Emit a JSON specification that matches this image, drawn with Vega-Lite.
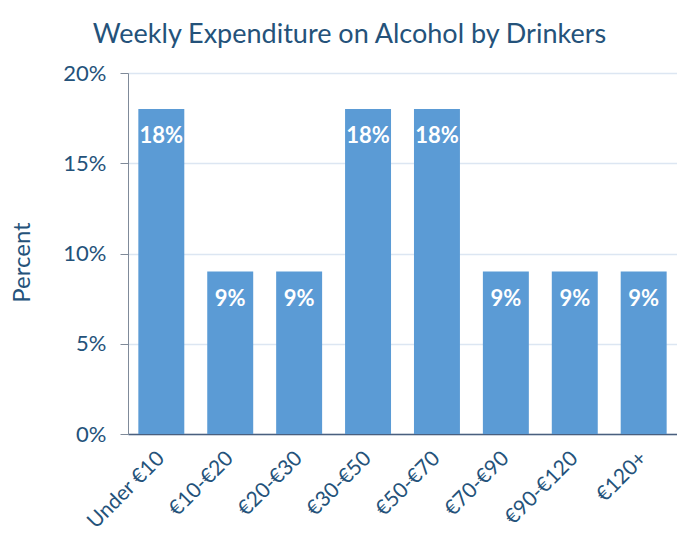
{
  "$schema": "https://vega.github.io/schema/vega-lite/v6.json",
  "width": 549,
  "height": 361,
  "autosize": "none",
  "padding": {"left": 128, "top": 73, "right": 0, "bottom": 101},
  "background": "white",
  "title": {
    "text": "Weekly Expenditure on Alcohol by Drinkers",
    "font": "Lato",
    "fontSize": 27,
    "fontWeight": "normal",
    "color": "#24527A",
    "anchor": "middle",
    "baseline": "alphabetic",
    "offset": -8,
    "dx": -53
  },
  "data": {
    "values": [
      {"range": "Under €10", "pct": 0.18},
      {"range": "€10-€20", "pct": 0.09},
      {"range": "€20-€30", "pct": 0.09},
      {"range": "€30-€50", "pct": 0.18},
      {"range": "€50-€70", "pct": 0.18},
      {"range": "€70-€90", "pct": 0.09},
      {"range": "€90-€120", "pct": 0.09},
      {"range": "€120+", "pct": 0.09}
    ]
  },
  "encoding": {
    "x": {
      "field": "range",
      "type": "nominal",
      "sort": null,
      "scale": {"paddingInner": 0.333, "paddingOuter": 0.15},
      "axis": {
        "title": null,
        "labelAngle": -45,
        "labelAlign": "right",
        "labelBaseline": "middle",
        "labelFont": "Lato",
        "labelFontSize": 21,
        "labelColor": "#24527A",
        "labelPadding": 21,
        "ticks": false,
        "domainColor": "#4A5F7E",
        "domainWidth": 1.5,
        "grid": false
      }
    },
    "y": {
      "field": "pct",
      "type": "quantitative",
      "scale": {"domain": [0, 0.2]},
      "axis": {
        "values": [0, 0.05, 0.1, 0.15, 0.2],
        "format": ".0%",
        "title": "Percent",
        "titleFont": "Lato",
        "titleFontSize": 24,
        "titleFontWeight": "normal",
        "titleColor": "#24527A",
        "titleAngle": -90,
        "titleX": -106,
        "titleY": 189,
        "titleAlign": "center",
        "titleBaseline": "middle",
        "labelFont": "Lato",
        "labelFontSize": 22,
        "labelColor": "#24527A",
        "labelPadding": 14,
        "tickSize": 8,
        "tickColor": "#7F8A99",
        "domainColor": "#7F8A99",
        "gridColor": "#DCE6F2",
        "gridWidth": 1.5
      }
    }
  },
  "layer": [
    {"mark": {"type": "bar", "color": "#5B9BD5"}},
    {
      "mark": {"type": "text", "color": "white", "font": "Lato", "fontSize": 22, "fontWeight": "bold", "baseline": "middle", "dy": 27},
      "encoding": {"text": {"field": "pct", "type": "quantitative", "format": ".0%"}}
    }
  ],
  "config": {"view": {"stroke": null}}
}
